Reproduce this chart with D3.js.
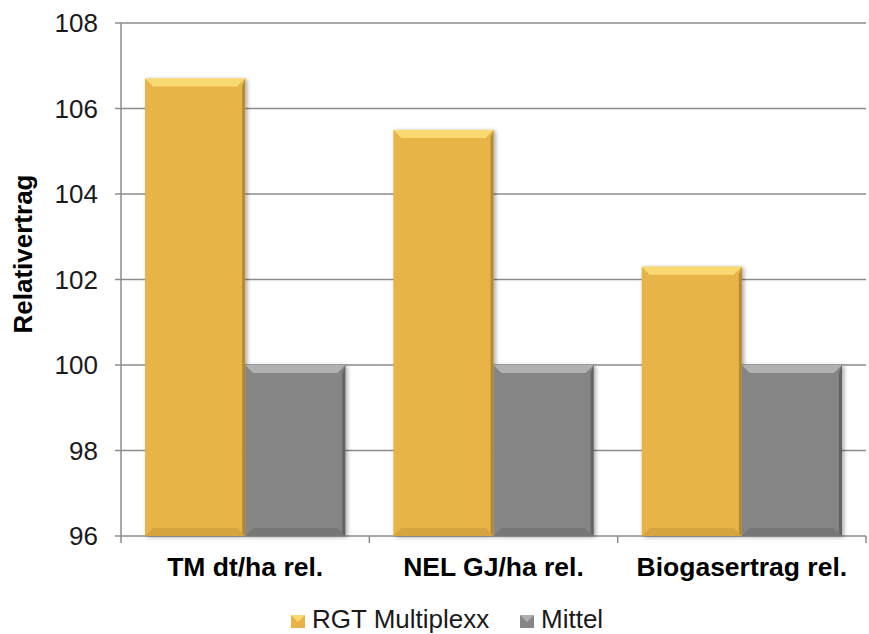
<!DOCTYPE html>
<html>
<head>
<meta charset="utf-8">
<script src="https://cdn.jsdelivr.net/npm/d3@7"></script>
<style>
  body { margin: 0; background: #fff; }
  svg { font-family: "Liberation Sans", Arial, sans-serif; }
</style>
</head>
<body>
<svg id="chart" width="869" height="634"></svg>
<script>
// chart data
const categories = ["TM dt/ha rel.", "NEL GJ/ha rel.", "Biogasertrag rel."];
const seriesNames = ["RGT Multiplexx", "Mittel"];
const multiplexx = [106.7, 105.5, 102.3];
const mittel = [100, 100, 100];
const yTicks = [96, 98, 100, 102, 104, 106, 108];

const colors = { "RGT Multiplexx": "#E8B447", "Mittel": "#858585" };
const lightEdge = { "RGT Multiplexx": "#FBE17A", "Mittel": "#B8B8B8" };
const darkEdge = { "RGT Multiplexx": "#A8812E", "Mittel": "#5A5A5A" };

const svg = d3.select("#chart");
const margin = { left: 121, right: 3, top: 23, bottom: 98 };
const width = 869 - margin.left - margin.right;
const height = 634 - margin.top - margin.bottom;

const x = d3.scaleBand().domain(categories).range([0, width]).paddingInner(0).paddingOuter(0);
const xs = d3.scaleBand().domain(seriesNames).range([0, x.bandwidth()]).paddingInner(0).paddingOuter(0.24);
const y = d3.scaleLinear().domain([96, 108]).range([height, 0]);

const defs = svg.append("defs");
const f = defs.append("filter").attr("id", "shadow").attr("x", "-10%").attr("y", "-10%").attr("width", "130%").attr("height", "130%");
f.append("feDropShadow").attr("dx", 2).attr("dy", 1).attr("stdDeviation", 2).attr("flood-color", "#000").attr("flood-opacity", 0.35);

const g = svg.append("g").attr("transform", `translate(${margin.left},${margin.top})`);

// gridlines
g.append("g").selectAll("line").data(yTicks).join("line")
  .attr("x1", -6).attr("x2", width)
  .attr("y1", d => y(d)).attr("y2", d => y(d))
  .attr("stroke", "#8C8C8C").attr("stroke-width", 1.5);

// y axis line
g.append("line").attr("x1", 0).attr("x2", 0).attr("y1", 0).attr("y2", height)
  .attr("stroke", "#8C8C8C").attr("stroke-width", 1.5);

// x axis category ticks
const xb = [0, ...categories.map(c => x(c) + x.bandwidth())];
g.append("g").selectAll("line").data(xb).join("line")
  .attr("x1", d => d).attr("x2", d => d)
  .attr("y1", height).attr("y2", height + 7)
  .attr("stroke", "#8C8C8C").attr("stroke-width", 1.5);

// y tick labels
g.append("g").selectAll("text").data(yTicks).join("text")
  .attr("x", -23).attr("y", d => y(d)).attr("dy", "0.35em")
  .attr("text-anchor", "end").attr("font-size", 26).attr("fill", "#1a1a1a")
  .text(d => d);

// bars
const rows = [];
categories.forEach((c, i) => {
  rows.push({ cat: c, s: "RGT Multiplexx", v: multiplexx[i] });
  rows.push({ cat: c, s: "Mittel", v: mittel[i] });
});

const bars = g.append("g").selectAll("g").data(rows).join("g")
  .attr("transform", d => `translate(${x(d.cat) + xs(d.s)},${y(d.v)})`);

bars.each(function (d) {
  const bw = xs.bandwidth();
  const bh = y(96) - y(d.v);
  const b = 8;
  const sel = d3.select(this);
  sel.append("rect").attr("width", bw).attr("height", bh)
    .attr("fill", colors[d.s]).attr("filter", "url(#shadow)");
  // top bevel (light)
  sel.append("polygon").attr("points", `0,0 ${bw},0 ${bw - b},${b} ${b},${b}`)
    .attr("fill", lightEdge[d.s]).attr("opacity", 0.85);
  // right bevel (dark)
  sel.append("polygon").attr("points", `${bw},0 ${bw},${bh} ${bw - 3},${bh - 3} ${bw - 3},${b}`)
    .attr("fill", darkEdge[d.s]).attr("opacity", 0.8);
  // bottom bevel (slightly dark)
  sel.append("polygon").attr("points", `0,${bh} ${bw},${bh} ${bw - b},${bh - b} ${b},${bh - b}`)
    .attr("fill", darkEdge[d.s]).attr("opacity", 0.3);
});

// category labels
g.append("g").selectAll("text").data(categories).join("text")
  .attr("x", d => x(d) + x.bandwidth() / 2).attr("y", 576 - margin.top)
  .attr("text-anchor", "middle").attr("font-size", 26.5).attr("font-weight", "bold")
  .attr("fill", "#000").text(d => d);

// y axis title
svg.append("text")
  .attr("transform", "translate(32,254) rotate(-90)")
  .attr("text-anchor", "middle").attr("font-size", 26).attr("font-weight", "bold")
  .text("Relativertrag");

// legend
const legend = svg.append("g").attr("transform", "translate(291,628)");
const legendX = [0, 229];
seriesNames.forEach((s, i) => {
  const lg = legend.append("g").attr("transform", `translate(${legendX[i]},0)`);
  lg.append("rect").attr("x", 0).attr("y", -13).attr("width", 14).attr("height", 13)
    .attr("fill", colors[s]);
  lg.append("polygon").attr("points", "0,-13 14,-13 7,-6").attr("fill", lightEdge[s]).attr("opacity", 0.8);
  lg.append("text").attr("x", 21).attr("y", 0)
    .attr("font-size", 26).attr("fill", "#1a1a1a").text(s);
});
</script>
</body>
</html>
